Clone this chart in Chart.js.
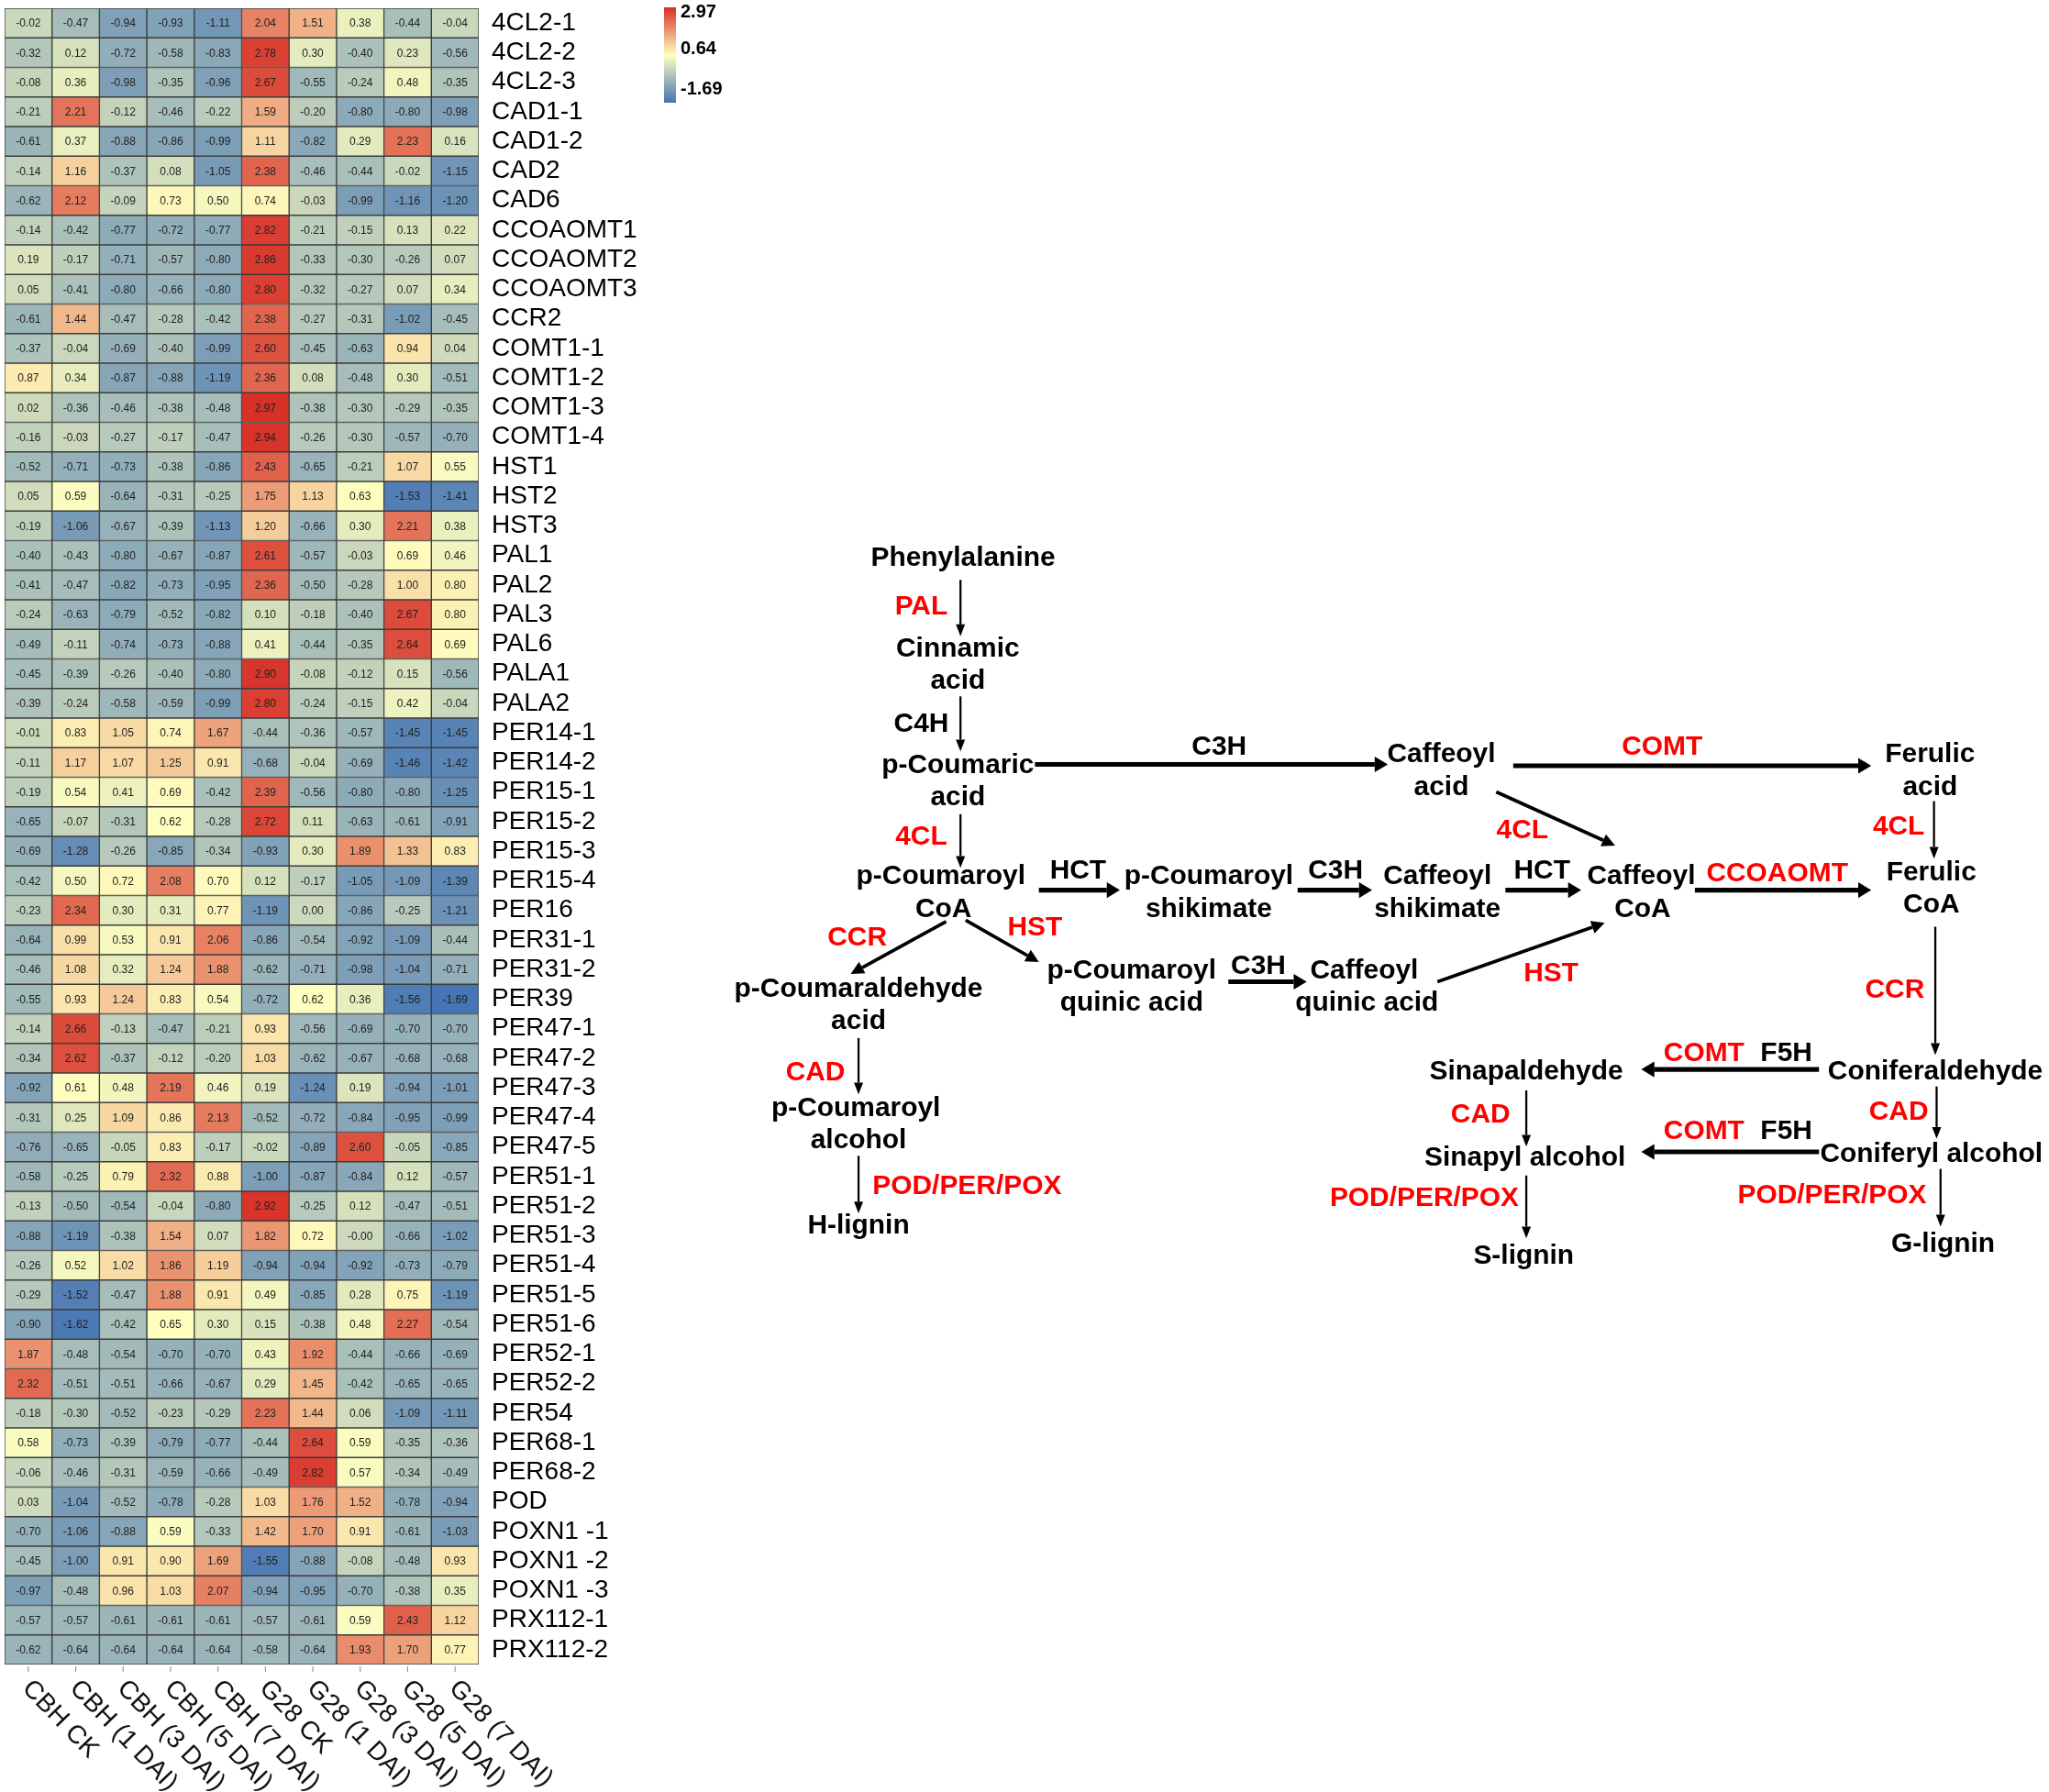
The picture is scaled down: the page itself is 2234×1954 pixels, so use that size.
<!DOCTYPE html>
<html>
<head>
<meta charset="utf-8">
<script src="https://cdn.jsdelivr.net/npm/chart.js@4.4.1/dist/chart.umd.min.js"></script>
<style>
  html, body { margin: 0; padding: 0; background: #fff; }
  #wrap { position: relative; width: 2234px; height: 1954px; }
  #heat { position: absolute; left: 0; top: 0; }
  #path { position: absolute; left: 0; top: 0; }
</style>
</head>
<body>
<div id="wrap">
  <canvas id="heat" width="820" height="1954"></canvas>
  <svg id="path" width="2234" height="1954" viewBox="0 0 1568 1369" preserveAspectRatio="none"></svg>
</div>
<script>
// rows of the heatmap (top to bottom)
const genes = ['4CL2-1','4CL2-2','4CL2-3','CAD1-1','CAD1-2','CAD2','CAD6','CCOAOMT1','CCOAOMT2','CCOAOMT3',
  'CCR2','COMT1-1','COMT1-2','COMT1-3','COMT1-4','HST1','HST2','HST3','PAL1','PAL2',
  'PAL3','PAL6','PALA1','PALA2','PER14-1','PER14-2','PER15-1','PER15-2','PER15-3','PER15-4',
  'PER16','PER31-1','PER31-2','PER39','PER47-1','PER47-2','PER47-3','PER47-4','PER47-5','PER51-1',
  'PER51-2','PER51-3','PER51-4','PER51-5','PER51-6','PER52-1','PER52-2','PER54','PER68-1','PER68-2',
  'POD','POXN1 -1','POXN1 -2','POXN1 -3','PRX112-1','PRX112-2'];

// columns
const samples = ['CBH CK','CBH (1 DAI)','CBH (3 DAI)','CBH (5 DAI)','CBH (7 DAI)',
  'G28 CK','G28 (1 DAI)','G28 (3 DAI)','G28 (5 DAI)','G28 (7 DAI)'];

const cbhCK = [-0.02,-0.32,-0.08,-0.21,-0.61,-0.14,-0.62,-0.14,0.19,0.05,
  -0.61,-0.37,0.87,0.02,-0.16,-0.52,0.05,-0.19,-0.40,-0.41,
  -0.24,-0.49,-0.45,-0.39,-0.01,-0.11,-0.19,-0.65,-0.69,-0.42,
  -0.23,-0.64,-0.46,-0.55,-0.14,-0.34,-0.92,-0.31,-0.76,-0.58,
  -0.13,-0.88,-0.26,-0.29,-0.90,1.87,2.32,-0.18,0.58,-0.06,
  0.03,-0.70,-0.45,-0.97,-0.57,-0.62];
const cbh1 = [-0.47,0.12,0.36,2.21,0.37,1.16,2.12,-0.42,-0.17,-0.41,
  1.44,-0.04,0.34,-0.36,-0.03,-0.71,0.59,-1.06,-0.43,-0.47,
  -0.63,-0.11,-0.39,-0.24,0.83,1.17,0.54,-0.07,-1.28,0.50,
  2.34,0.99,1.08,0.93,2.66,2.62,0.61,0.25,-0.65,-0.25,
  -0.50,-1.19,0.52,-1.52,-1.62,-0.48,-0.51,-0.30,-0.73,-0.46,
  -1.04,-1.06,-1.00,-0.48,-0.57,-0.64];
const cbh3 = [-0.94,-0.72,-0.98,-0.12,-0.88,-0.37,-0.09,-0.77,-0.71,-0.80,
  -0.47,-0.69,-0.87,-0.46,-0.27,-0.73,-0.64,-0.67,-0.80,-0.82,
  -0.79,-0.74,-0.26,-0.58,1.05,1.07,0.41,-0.31,-0.26,0.72,
  0.30,0.53,0.32,1.24,-0.13,-0.37,0.48,1.09,-0.05,0.79,
  -0.54,-0.38,1.02,-0.47,-0.42,-0.54,-0.51,-0.52,-0.39,-0.31,
  -0.52,-0.88,0.91,0.96,-0.61,-0.64];
const cbh5 = [-0.93,-0.58,-0.35,-0.46,-0.86,0.08,0.73,-0.72,-0.57,-0.66,
  -0.28,-0.40,-0.88,-0.38,-0.17,-0.38,-0.31,-0.39,-0.67,-0.73,
  -0.52,-0.73,-0.40,-0.59,0.74,1.25,0.69,0.62,-0.85,2.08,
  0.31,0.91,1.24,0.83,-0.47,-0.12,2.19,0.86,0.83,2.32,
  -0.04,1.54,1.86,1.88,0.65,-0.70,-0.66,-0.23,-0.79,-0.59,
  -0.78,0.59,0.90,1.03,-0.61,-0.64];
const cbh7 = [-1.11,-0.83,-0.96,-0.22,-0.99,-1.05,0.50,-0.77,-0.80,-0.80,
  -0.42,-0.99,-1.19,-0.48,-0.47,-0.86,-0.25,-1.13,-0.87,-0.95,
  -0.82,-0.88,-0.80,-0.99,1.67,0.91,-0.42,-0.28,-0.34,0.70,
  0.77,2.06,1.88,0.54,-0.21,-0.20,0.46,2.13,-0.17,0.88,
  -0.80,0.07,1.19,0.91,0.30,-0.70,-0.67,-0.29,-0.77,-0.66,
  -0.28,-0.33,1.69,2.07,-0.61,-0.64];
const g28CK = [2.04,2.78,2.67,1.59,1.11,2.38,0.74,2.82,2.86,2.80,
  2.38,2.60,2.36,2.97,2.94,2.43,1.75,1.20,2.61,2.36,
  0.10,0.41,2.90,2.80,-0.44,-0.68,2.39,2.72,-0.93,0.12,
  -1.19,-0.86,-0.62,-0.72,0.93,1.03,0.19,-0.52,-0.02,-1.00,
  2.92,1.82,-0.94,0.49,0.15,0.43,0.29,2.23,-0.44,-0.49,
  1.03,1.42,-1.55,-0.94,-0.57,-0.58];
const g28d1 = [1.51,0.30,-0.55,-0.20,-0.82,-0.46,-0.03,-0.21,-0.33,-0.32,
  -0.27,-0.45,0.08,-0.38,-0.26,-0.65,1.13,-0.66,-0.57,-0.50,
  -0.18,-0.44,-0.08,-0.24,-0.36,-0.04,-0.56,0.11,0.30,-0.17,
  0.00,-0.54,-0.71,0.62,-0.56,-0.62,-1.24,-0.72,-0.89,-0.87,
  -0.25,0.72,-0.94,-0.85,-0.38,1.92,1.45,1.44,2.64,2.82,
  1.76,1.70,-0.88,-0.95,-0.61,-0.64];
const g28d3 = [0.38,-0.40,-0.24,-0.80,0.29,-0.44,-0.99,-0.15,-0.30,-0.27,
  -0.31,-0.63,-0.48,-0.30,-0.30,-0.21,0.63,0.30,-0.03,-0.28,
  -0.40,-0.35,-0.12,-0.15,-0.57,-0.69,-0.80,-0.63,1.89,-1.05,
  -0.86,-0.92,-0.98,0.36,-0.69,-0.67,0.19,-0.84,2.60,-0.84,
  0.12,-0.004,-0.92,0.28,0.48,-0.44,-0.42,0.06,0.59,0.57,
  1.52,0.91,-0.08,-0.70,0.59,1.93];
const g28d5 = [-0.44,0.23,0.48,-0.80,2.23,-0.02,-1.16,0.13,-0.26,0.07,
  -1.02,0.94,0.30,-0.29,-0.57,1.07,-1.53,2.21,0.69,1.00,
  2.67,2.64,0.15,0.42,-1.45,-1.46,-0.80,-0.61,1.33,-1.09,
  -0.25,-1.09,-1.04,-1.56,-0.70,-0.68,-0.94,-0.95,-0.05,0.12,
  -0.47,-0.66,-0.73,0.75,2.27,-0.66,-0.65,-1.09,-0.35,-0.34,
  -0.78,-0.61,-0.48,-0.38,2.43,1.70];
const g28d7 = [-0.04,-0.56,-0.35,-0.98,0.16,-1.15,-1.20,0.22,0.07,0.34,
  -0.45,0.04,-0.51,-0.35,-0.70,0.55,-1.41,0.38,0.46,0.80,
  0.80,0.69,-0.56,-0.04,-1.45,-1.42,-1.25,-0.91,0.83,-1.39,
  -1.21,-0.44,-0.71,-1.69,-0.70,-0.68,-1.01,-0.99,-0.85,-0.57,
  -0.51,-1.02,-0.79,-1.19,-0.54,-0.69,-0.65,-1.11,-0.36,-0.49,
  -0.94,-1.03,0.93,0.35,1.12,0.77];

const columns = [cbhCK, cbh1, cbh3, cbh5, cbh7, g28CK, g28d1, g28d3, g28d5, g28d7];

// colour key
const keyMin = -1.69, keyMid = 0.64, keyMax = 2.97;
const keyLabels = ['2.97', '0.64', '-1.69'];

const FONT = '"Liberation Sans", Arial, sans-serif';

function mix(a, b, t) {
  return 'rgb(' + a.map((v, i) => Math.round(v + (b[i] - v) * t)).join(',') + ')';
}
function heatColor(v) {
  const blue = [69, 117, 180], pale = [255, 255, 191], red = [215, 48, 39];
  if (v <= keyMid) return mix(blue, pale, Math.max(0, (v - keyMin) / (keyMid - keyMin)));
  return mix(pale, red, Math.min(1, (v - keyMid) / (keyMax - keyMid)));
}

const datasets = columns.map((vals, c) => ({
  label: samples[c],
  data: vals.map(() => [c, c + 1]),
  values: vals,
  backgroundColor: vals.map(heatColor),
  borderColor: '#3c3c3c',
  borderWidth: 1,
  borderSkipped: false,
  barPercentage: 1,
  categoryPercentage: 1,
  grouped: false
}));

// numbers inside the cells, column labels and colour key
const heatExtras = {
  id: 'heatExtras',
  afterDatasetsDraw(chart) {
    const ctx = chart.ctx;
    ctx.save();
    ctx.font = '12px ' + FONT;
    ctx.fillStyle = '#222';
    ctx.textAlign = 'center';
    ctx.textBaseline = 'middle';
    chart.data.datasets.forEach((ds, i) => {
      chart.getDatasetMeta(i).data.forEach((el, j) => {
        ctx.fillText(ds.values[j].toFixed(2), (el.x + el.base) / 2, el.y + 1);
      });
    });
    ctx.restore();
  },
  afterDraw(chart) {
    const ctx = chart.ctx;
    const xs = chart.scales.x;
    const area = chart.chartArea;
    ctx.save();
    // ticks + rotated sample names
    ctx.strokeStyle = '#888';
    ctx.lineWidth = 1;
    ctx.fillStyle = '#111';
    ctx.font = '28px ' + FONT;
    ctx.textAlign = 'left';
    ctx.textBaseline = 'top';
    samples.forEach((s, c) => {
      const x = xs.getPixelForValue(c + 0.5);
      ctx.beginPath();
      ctx.moveTo(x, area.bottom + 2);
      ctx.lineTo(x, area.bottom + 8);
      ctx.stroke();
      ctx.save();
      ctx.translate(x + 8, area.bottom + 12);
      ctx.rotate(46 * Math.PI / 180);
      ctx.fillText(s, 0, 0);
      ctx.restore();
    });
    // colour key
    const kx = 724, ky = 8, kw = 13, kh = 104;
    const g = ctx.createLinearGradient(0, ky, 0, ky + kh);
    g.addColorStop(0, heatColor(keyMax));
    g.addColorStop((keyMax - keyMid) / (keyMax - keyMin), heatColor(keyMid));
    g.addColorStop(1, heatColor(keyMin));
    ctx.fillStyle = g;
    ctx.fillRect(kx, ky, kw, kh);
    ctx.fillStyle = '#000';
    ctx.font = 'bold 20px ' + FONT;
    ctx.textBaseline = 'middle';
    const ly = [13, 53, 97];
    keyLabels.forEach((t, i) => ctx.fillText(t, kx + 18, ly[i]));
    ctx.restore();
  }
};

new Chart(document.getElementById('heat'), {
  type: 'bar',
  data: { labels: genes, datasets: datasets },
  plugins: [heatExtras],
  options: {
    responsive: false,
    animation: false,
    indexAxis: 'y',
    layout: { padding: { left: 5, top: 9, right: 0, bottom: 0 } },
    plugins: { legend: { display: false }, tooltip: { enabled: false } },
    scales: {
      x: {
        type: 'linear', min: 0, max: 10,
        grid: { display: false, drawTicks: false },
        border: { display: false },
        ticks: { display: false },
        afterFit: s => { s.height = 139; s.paddingLeft = 0; s.paddingRight = 0; }
      },
      y: {
        type: 'category',
        position: 'right',
        grid: { display: false, drawTicks: false },
        border: { display: false },
        ticks: { autoSkip: false, padding: 14, color: '#000', font: { family: FONT, size: 28 } },
        afterFit: s => { s.width = 298; s.paddingTop = 0; s.paddingBottom = 0; }
      }
    }
  }
});

// lignin pathway diagram
const svg = document.getElementById('path');
const NS = 'http://www.w3.org/2000/svg';
function el(tag, attrs, text) {
  const e = document.createElementNS(NS, tag);
  for (const k in attrs) e.setAttribute(k, attrs[k]);
  if (text) e.textContent = text;
  svg.appendChild(e);
}
function label(t, x, y, color) {
  el('text', { x: x, y: y, fill: color || '#000', 'font-family': FONT, 'font-weight': 'bold',
    'font-size': 21, 'text-anchor': 'middle', 'dominant-baseline': 'central' }, t);
}
function arrow(x1, y1, x2, y2, w, hl, hw) {
  const dx = x2 - x1, dy = y2 - y1, len = Math.hypot(dx, dy);
  const ux = dx / len, uy = dy / len;
  const bx = x2 - ux * hl, by = y2 - uy * hl;
  el('line', { x1: x1, y1: y1, x2: bx, y2: by, stroke: '#000', 'stroke-width': w });
  el('polygon', { fill: '#000', points: [x2, y2, bx - uy * hw, by + ux * hw, bx + uy * hw, by - ux * hw].join(' ') });
}

const compounds = [
  ['Phenylalanine', 737, 425], ['Cinnamic', 733, 494], ['acid', 733, 519],
  ['p-Coumaric', 733, 583], ['acid', 733, 608], ['Caffeoyl', 1103, 575], ['acid', 1103, 600],
  ['Ferulic', 1477, 575], ['acid', 1477, 600],
  ['p-Coumaroyl', 720, 668], ['CoA', 722, 693], ['p-Coumaroyl', 925, 668], ['shikimate', 925, 693],
  ['Caffeoyl', 1100, 668], ['shikimate', 1100, 693], ['Caffeoyl', 1256, 668], ['CoA', 1257, 693],
  ['Ferulic', 1478, 665], ['CoA', 1478, 690],
  ['p-Coumaraldehyde', 657, 754], ['acid', 657, 779], ['p-Coumaroyl', 866, 740], ['quinic acid', 866, 765],
  ['Caffeoyl', 1044, 740], ['quinic acid', 1046, 765],
  ['p-Coumaroyl', 655, 845], ['alcohol', 657, 870], ['H-lignin', 657, 935],
  ['Sinapaldehyde', 1168, 817], ['Coniferaldehyde', 1481, 817],
  ['Sinapyl alcohol', 1167, 883], ['Coniferyl alcohol', 1478, 880],
  ['S-lignin', 1166, 958], ['G-lignin', 1487, 949],
  ['C4H', 705, 552], ['C3H', 933, 569], ['HCT', 825, 664], ['C3H', 1022, 664], ['HCT', 1180, 664],
  ['C3H', 963, 737], ['F5H', 1367, 803], ['F5H', 1367, 863]
];
const enzymes = [
  ['PAL', 705, 462], ['COMT', 1272, 569], ['4CL', 705, 638], ['4CL', 1165, 633], ['4CL', 1453, 630],
  ['CCOAOMT', 1360, 666], ['CCR', 656, 715], ['HST', 792, 707], ['HST', 1187, 742], ['CCR', 1450, 755],
  ['CAD', 624, 818], ['POD/PER/POX', 740, 905], ['COMT', 1304, 803], ['CAD', 1133, 850],
  ['CAD', 1453, 848], ['COMT', 1304, 863], ['POD/PER/POX', 1090, 914], ['POD/PER/POX', 1402, 912]
];
compounds.forEach(c => label(c[0], c[1], c[2]));
enzymes.forEach(c => label(c[0], c[1], c[2], '#ff0000'));

// thin vertical steps
[[735,443,735,486],[735,532,735,574],[735,622,735,663],[1480,612,1480,656],[1481,708,1481,806],
 [657,793,657,836],[657,883,657,927],[1168,833,1168,876],[1482,830,1482,870],[1168,898,1168,946],
 [1485,893,1485,937]].forEach(a => arrow(a[0], a[1], a[2], a[3], 1.6, 9, 3.5));
// thick horizontal steps
[[792,584,1062,584],[1158,585,1432,585],[795,680,857,680],[993,680,1050,680],[1152,680,1210,680],
 [1297,680,1432,680],[940,750,1000,750],[1392,817,1256,817],[1392,880,1256,880]]
  .forEach(a => arrow(a[0], a[1], a[2], a[3], 3.6, 10, 6));
// diagonal steps
[[1145,605,1236,646],[724,704,651,744],[739,703,795,735],[1100,750,1228,705]]
  .forEach(a => arrow(a[0], a[1], a[2], a[3], 2.6, 10, 5));
</script>
</body>
</html>
